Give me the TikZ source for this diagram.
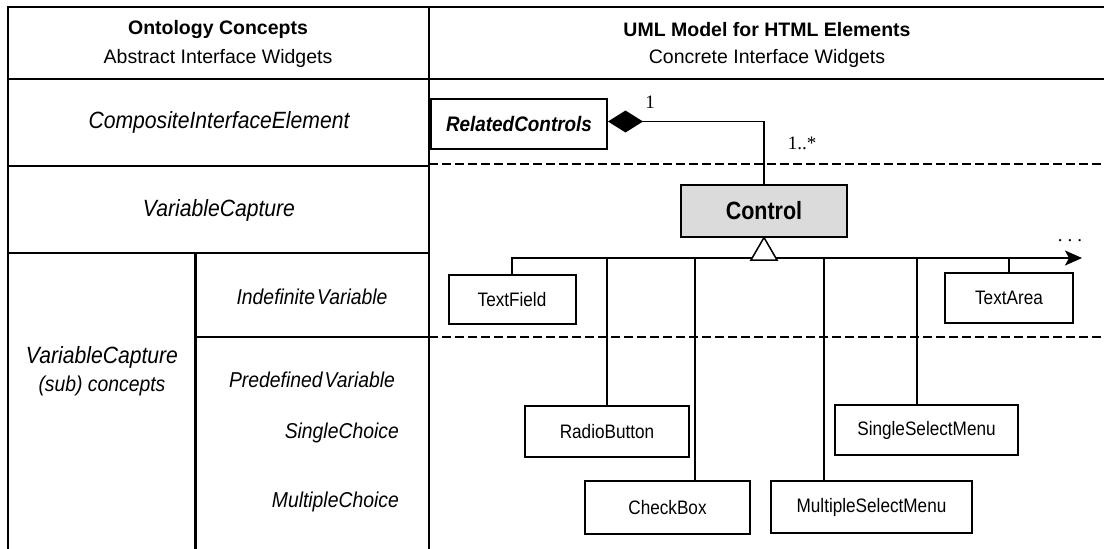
\documentclass[tikz,border=0pt]{standalone}
\usepackage{fontspec}
\setmainfont{Liberation Sans}
\newfontfamily\umlserif{Liberation Serif}
\newfontfamily\labelsans{Liberation Sans}[FakeStretch=0.9]
\newfontfamily\boxsans{Liberation Sans}[FakeStretch=0.88]
\newfontfamily\classsans{Liberation Sans}[FakeStretch=0.86]
\usetikzlibrary{arrows.meta,shapes.geometric}

\newcommand{\fs}[1]{\fontsize{#1}{#1}\selectfont}

\tikzset{
  frame/.style={line width=2.5pt, line cap=rect},
  lane/.style={line width=1.4pt, dash pattern=on 8.5pt off 4.5pt},
  link/.style={line width=1.5pt},
  umlbox/.style={draw, line width=2pt, fill=white, inner sep=0pt, anchor=north west,
                 font=\boxsans\fs{19.5}},
  concept/.style={font=\labelsans\fs{23.5}\itshape, inner sep=0pt},
  subconcept/.style={font=\labelsans\fs{21.5}\itshape, inner sep=0pt},
  headbold/.style={font=\fs{19.5}\bfseries, inner sep=0pt},
  headplain/.style={font=\fs{19.5}, inner sep=0pt},
  mult/.style={font=\fs{19}\umlserif, inner sep=0pt},
}

\begin{document}
\begin{tikzpicture}[x=1pt, y=-1pt]
\useasboundingbox (0,0) rectangle (1104,549);

% table frame
\draw[frame] (8,549) -- (8,7) -- (1104,7);
\draw[frame] (8,79) -- (1104,79);
\draw[frame] (429,7) -- (429,549);
\draw[frame] (8,166) -- (429,166);
\draw[frame] (8,253) -- (429,253);
\draw[frame] (195.5,253) -- (195.5,549);
\draw[frame] (195.5,337) -- (429,337);

% lane separators on the model side
\draw[lane] (429,164) -- (1104,164);
\draw[lane] (429,337) -- (1104,337);

% column headings
\node[headbold]  (h1a) at (218,29.5) {Ontology Concepts};
\node[headplain] (h1b) at (218,58) {Abstract Interface Widgets};
\node[headbold]  (h2a) at (767,29.5) {UML Model for HTML Elements};
\node[headplain] (h2b) at (767,58) {Concrete Interface Widgets};

% ontology concepts
\node[concept] (cie) at (219,122) {CompositeInterfaceElement};
\node[concept] (vc)  at (219,210) {VariableCapture};
\node[subconcept] (iv) at (312,297) {Indefinite\kern2pt Variable};
\node[concept, align=center, font=\labelsans\fontsize{23.5}{28}\selectfont\itshape]
  (vcs) at (102,371) {VariableCapture\\{\fontsize{21.5}{28}\selectfont (sub) concepts}};
\node[subconcept] (pv) at (312,380) {Predefined\kern2pt Variable};
\node[subconcept, anchor=east] (sc) at (399,433) {SingleChoice};
\node[subconcept, anchor=east] (mc) at (399,502) {MultipleChoice};

% UML classes
\node[umlbox, minimum width=176pt, minimum height=50pt, font=\labelsans\fs{21}\bfseries\itshape]
  (rc) at (430,97.5) {RelatedControls};
\node[umlbox, fill=black!14, minimum width=166pt, minimum height=52pt, font=\classsans\fs{25}\bfseries]
  (ctrl) at (680,183.5) {Control};
\node[umlbox, minimum width=127pt, minimum height=49pt] (tf) at (447.5,274) {TextField};
\node[umlbox, minimum width=128pt, minimum height=50pt] (ta) at (944,272) {TextArea};
\node[umlbox, minimum width=164pt, minimum height=51pt] (rb) at (524,405) {RadioButton};
\node[umlbox, minimum width=165pt, minimum height=53pt] (cb) at (584,480) {CheckBox};
\node[umlbox, minimum width=201pt, minimum height=52pt] (msm) at (770,480) {MultipleSelectMenu};
\node[umlbox, minimum width=183pt, minimum height=50pt] (ssm) at (834,404) {SingleSelectMenu};

% composition RelatedControls <>-- Control
\draw[link, {Diamond[length=35pt, width=22pt]}-] ([yshift=2pt]rc.east) -| (ctrl.north);
\node[mult] (m1) at (650,102) {1};
\node[mult] (m2) at (802,143) {1..*};

% generalisation bus
\coordinate (tip) at (1082,258);
\draw[link, -{Stealth[length=17pt, width=15pt, inset=4pt]}] (tf.north) |- (tip);
\node[mult] (more) at (1070,241) {.\hspace{5pt}.\hspace{5pt}.};
\draw[link, fill=white] (ctrl.south) -- ++(-13,22.5) -- ++(26,0) -- cycle;

% attachment points of the subclasses on the bus
\path (cb.north west)  ++(111,0) coordinate (cbj);
\path (msm.north west) ++(54,0)  coordinate (msmj);
\path (ssm.north west) ++(83,0)  coordinate (ssmj);
\draw[link] (rb.north) -- (rb.north |- tip);
\draw[link] (cbj) -- (cbj |- tip);
\draw[link] (msmj) -- (msmj |- tip);
\draw[link] (ssmj) -- (ssmj |- tip);
\draw[link] (ta.north) -- (ta.north |- tip);
\end{tikzpicture}
\end{document}
